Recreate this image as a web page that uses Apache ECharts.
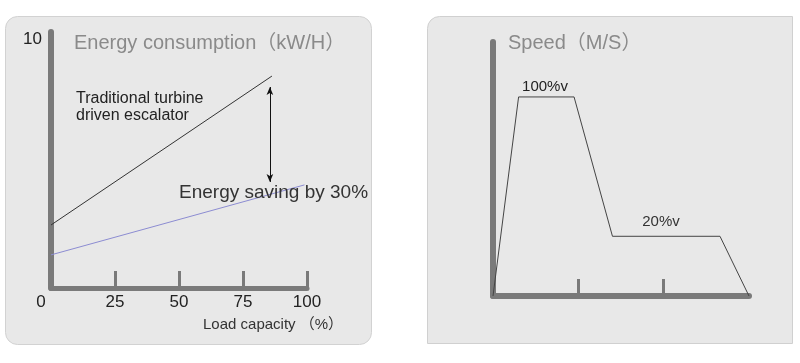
<!DOCTYPE html>
<html>
<head>
<meta charset="utf-8">
<script src="https://cdn.jsdelivr.net/npm/echarts@6/dist/echarts.min.js"></script>
<style>html,body{margin:0;padding:0;background:#fff;}#c{width:800px;height:363px;}</style>
</head>
<body>
<div id="c"></div>
<script>
// ---- data ----
const loadTicks = [0, 25, 50, 75, 100];
const energyMax = 10;
const traditionalX = [0, 86.3];
const traditionalY = [2.53, 8.51];
const savingX = [0, 99];
const savingY = [1.33, 4.14];
const arrowX = 85.5;
const arrowTop = 8.07;
const arrowBottom = 4.26;
const speedX = [0, 0.30, 0.95, 1.40, 2.66, 3.0];
const speedY = [0, 100, 100, 30, 30, 0];
const speedTicks = [1, 2];

const FONT = 'Liberation Sans, Noto Sans CJK SC, sans-serif';
const AX = '#7a7a7a';
const zip = (xs, ys) => xs.map((x, i) => [x, ys[i]]);

const chart = echarts.init(document.getElementById('c'), null, {renderer: 'canvas'});
chart.setOption({
  backgroundColor: '#ffffff',
  animation: false,
  textStyle: {fontFamily: FONT},
  grid: [
    {left: 51, top: 32, width: 256, height: 256},
    {left: 493, top: 42, width: 256, height: 254}
  ],
  xAxis: [
    {
      gridIndex: 0, type: 'value', min: 0, max: 100, interval: 25,
      axisLine: {show: true, lineStyle: {color: AX, width: 5}},
      axisTick: {show: true, inside: true, length: 17, lineStyle: {color: AX, width: 3}},
      splitLine: {show: false},
      axisLabel: {
        show: true, margin: 6, color: '#222', fontSize: 17, fontFamily: FONT,
        customValues: loadTicks,
        formatter: v => v === 0 ? '{z|0}' : String(v),
        rich: {z: {padding: [0, 20, 0, 0], fontSize: 17, color: '#222', fontFamily: FONT}}
      }
    },
    {
      gridIndex: 1, type: 'value', min: 0, max: 3, interval: 1,
      axisLine: {show: true, lineStyle: {color: AX, width: 6}},
      axisTick: {show: true, inside: true, length: 17, customValues: speedTicks, lineStyle: {color: AX, width: 3}},
      splitLine: {show: false},
      axisLabel: {show: false}
    }
  ],
  yAxis: [
    {
      gridIndex: 0, type: 'value', min: 0, max: 10.28,
      axisLine: {show: true, lineStyle: {color: AX, width: 6}},
      axisTick: {show: false},
      splitLine: {show: false},
      axisLabel: {show: true, customValues: [energyMax], margin: 9, color: '#222', fontSize: 17, fontFamily: FONT}
    },
    {
      gridIndex: 1, type: 'value', min: 0, max: 127.6,
      axisLine: {show: true, lineStyle: {color: AX, width: 6}},
      axisTick: {show: false},
      splitLine: {show: false},
      axisLabel: {show: false}
    }
  ],
  series: [
    {
      type: 'line', xAxisIndex: 0, yAxisIndex: 0, symbol: 'none', z: 5,
      lineStyle: {color: '#333', width: 1},
      data: zip(traditionalX, traditionalY),
      markLine: {
        silent: true, symbol: ['arrow', 'arrow'], symbolSize: [5, 8],
        label: {show: false},
        lineStyle: {color: '#111', width: 1, type: 'solid'},
        data: [[{coord: [arrowX, arrowTop]}, {coord: [arrowX, arrowBottom]}]]
      }
    },
    {
      type: 'line', xAxisIndex: 0, yAxisIndex: 0, symbol: 'none', z: 5,
      lineStyle: {color: '#8c8cd2', width: 1},
      data: zip(savingX, savingY)
    },
    {
      type: 'line', xAxisIndex: 1, yAxisIndex: 1, symbol: 'none', z: 5,
      lineStyle: {color: '#444', width: 1},
      data: zip(speedX, speedY)
    }
  ],
  graphic: [
    {type: 'rect', z: -10, shape: {x: 5.5, y: 16.5, width: 366, height: 328, r: 12},
     style: {fill: '#e8e8e8', stroke: '#d2d2d2', lineWidth: 1}},
    {type: 'rect', z: -10, shape: {x: 427.5, y: 16.5, width: 365, height: 327, r: [12, 0, 0, 0]},
     style: {fill: '#e8e8e8', stroke: '#d0d0d0', lineWidth: 1}},
    {type: 'text', z: 50, x: 74, y: 43,
     style: {text: 'Energy consumption（kW/H）', fill: '#8a8a8a', fontSize: 20, fontFamily: FONT, textVerticalAlign: 'middle'}},
    {type: 'text', z: 50, x: 76, y: 99,
     style: {text: 'Traditional turbine', fill: '#222', fontSize: 16, fontFamily: FONT, textVerticalAlign: 'middle'}},
    {type: 'text', z: 50, x: 76, y: 116,
     style: {text: 'driven escalator', fill: '#222', fontSize: 16, fontFamily: FONT, textVerticalAlign: 'middle'}},
    {type: 'text', z: 50, x: 179, y: 193,
     style: {text: 'Energy saving by 30%', fill: '#333', fontSize: 19, fontFamily: FONT, textVerticalAlign: 'middle'}},
    {type: 'text', z: 50, x: 203, y: 325,
     style: {text: 'Load capacity （%）', fill: '#333', fontSize: 15, fontFamily: FONT, textVerticalAlign: 'middle'}},
    {type: 'text', z: 50, x: 508, y: 43,
     style: {text: 'Speed（M/S）', fill: '#8a8a8a', fontSize: 20, fontFamily: FONT, textVerticalAlign: 'middle'}},
    {type: 'text', z: 50, x: 545, y: 87,
     style: {text: '100%v', fill: '#222', fontSize: 15, fontFamily: FONT, textAlign: 'center', textVerticalAlign: 'middle'}},
    {type: 'text', z: 50, x: 661, y: 222,
     style: {text: '20%v', fill: '#333', fontSize: 15, fontFamily: FONT, textAlign: 'center', textVerticalAlign: 'middle'}}
  ]
});
</script>
</body>
</html>
